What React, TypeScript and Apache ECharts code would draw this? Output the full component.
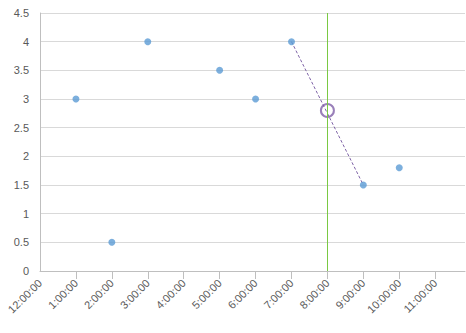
import React, { useEffect, useRef } from "react";
import * as echarts from "echarts";

const hours = [1, 2, 3, 5, 6, 7, 9, 10];
const values = [3, 0.5, 4, 3.5, 3, 4, 1.5, 1.8];
const tickHours = [0, 1, 2, 3, 4, 5, 6, 7, 8, 9, 10, 11];
const lineFrom = [7, 4];
const lineTo = [9, 1.5];
const markerHour = 8;
const markerValue = 2.8;

function fmt(h: number) {
  const hh = h === 0 ? 12 : h;
  return `${hh}:00:00`;
}

export default function App() {
  const ref = useRef<HTMLDivElement>(null);
  useEffect(() => {
    const chart = echarts.init(ref.current!, null, { renderer: "svg" });
    chart.setOption({
      animation: false,
      textStyle: { fontFamily: "Liberation Sans" },
      grid: { left: 40, top: 13, right: 1, bottom: 62 },
      xAxis: {
        type: "value",
        min: 0,
        max: 11.83,
        interval: 1,
        axisLine: { show: true, lineStyle: { color: "#bfbfbf" } },
        axisTick: {
          show: true,
          inside: false,
          length: 8,
          lineStyle: { color: "#bfbfbf" },
          customValues: tickHours.slice(1),
        },
        splitLine: { show: false },
        axisLabel: {
          rotate: 45,
          margin: 10,
          fontSize: 11,
          color: "#595959",
          customValues: tickHours,
          formatter: (v: number) => fmt(Math.round(v)),
        },
      },
      yAxis: {
        type: "value",
        min: 0,
        max: 4.5,
        interval: 0.5,
        axisLine: { show: true, lineStyle: { color: "#bfbfbf" } },
        axisTick: { show: false },
        splitLine: { lineStyle: { color: "#d9d9d9" } },
        axisLabel: { fontSize: 11, color: "#595959", margin: 11 },
      },
      series: [
        {
          type: "line",
          data: [lineFrom, lineTo],
          symbol: "none",
          lineStyle: { color: "#7f64a8", width: 1, type: [3, 2] },
          z: 2,
          markLine: {
            silent: true,
            symbol: "none",
            label: { show: false },
            lineStyle: { color: "#7ac943", width: 1, type: "solid" },
            data: [{ xAxis: markerHour }],
          },
        },
        {
          type: "scatter",
          data: hours.map((h, i) => [h, values[i]]),
          symbolSize: 7,
          itemStyle: { color: "#5b9bd5" },
          z: 3,
        },
        {
          type: "scatter",
          data: [[markerHour, markerValue]],
          symbol: "circle",
          symbolSize: 13,
          itemStyle: { color: "none", borderColor: "#7f5fa8", borderWidth: 2 },
          z: 4,
        },
      ],
    });
    return () => chart.dispose();
  }, []);
  return <div ref={ref} style={{ width: 466, height: 333, position: "absolute", left: 0, top: 0 }} />;
}
